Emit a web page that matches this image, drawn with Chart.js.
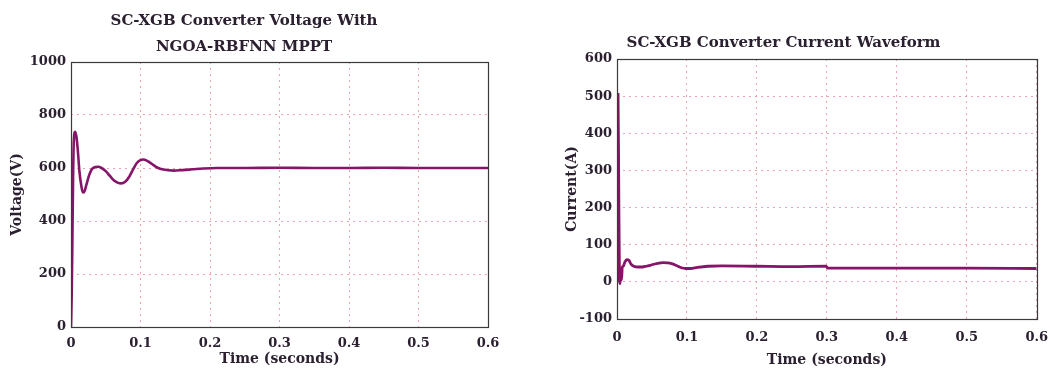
<!DOCTYPE html>
<html>
<head>
<meta charset="utf-8">
<script src="https://cdn.jsdelivr.net/npm/chart.js@4/dist/chart.umd.min.js"></script>
<style>
html,body{margin:0;padding:0;background:#fff;}
#wrap{position:relative;width:1059px;height:377px;overflow:hidden;}
#c1{position:absolute;left:0;top:0;}
#c2{position:absolute;left:530px;top:0;}
</style>
</head>
<body>
<div id="wrap">
<canvas id="c1" width="530" height="377"></canvas>
<canvas id="c2" width="529" height="377"></canvas>
</div>
<script>
// ---------- data ----------
const voltageTitle = ['SC-XGB Converter Voltage With', 'NGOA-RBFNN MPPT'];
const currentTitle = 'SC-XGB Converter Current Waveform';
const xAxisTitle = 'Time (seconds)';
const voltageAxisTitle = 'Voltage(V)';
const currentAxisTitle = 'Current(A)';

const xTicks = [0, 0.1, 0.2, 0.3, 0.4, 0.5, 0.6];
const xTickLabels = ['0', '0.1', '0.2', '0.3', '0.4', '0.5', '0.6'];
const voltageTicks = [0, 200, 400, 600, 800, 1000];
const currentTicks = [-100, 0, 100, 200, 300, 400, 500, 600];

const voltageTime = [0, 0.001, 0.002, 0.003, 0.004, 0.006, 0.008, 0.010, 0.012, 0.015, 0.017, 0.019, 0.022, 0.026, 0.030, 0.035, 0.039, 0.044, 0.050, 0.056, 0.062, 0.067, 0.072, 0.078, 0.084, 0.090, 0.095, 0.100, 0.104, 0.109, 0.116, 0.124, 0.133, 0.148, 0.160, 0.175, 0.190, 0.210, 0.250, 0.300, 0.350, 0.400, 0.450, 0.500, 0.550, 0.600];
const voltageValues = [0, 120, 330, 560, 700, 737, 715, 660, 590, 530, 508, 510, 535, 572, 595, 604, 605, 600, 588, 570, 553, 545, 542, 548, 568, 598, 620, 630, 632, 628, 616, 602, 594, 590, 592, 595, 598, 600, 600, 601, 600, 600, 601, 600, 600, 600];

const currentTime = [0, 0.0008, 0.0015, 0.0025, 0.0035, 0.0045, 0.0055, 0.0065, 0.0075, 0.009, 0.011, 0.014, 0.017, 0.020, 0.024, 0.030, 0.036, 0.042, 0.050, 0.058, 0.066, 0.072, 0.078, 0.085, 0.092, 0.098, 0.105, 0.115, 0.130, 0.150, 0.200, 0.250, 0.299, 0.301, 0.350, 0.400, 0.500, 0.600];
const currentValues = [0, 500, 505, 260, 20, -5, 35, 5, 40, 42, 52, 60, 58, 48, 42, 40, 40, 42, 46, 50, 52, 51, 49, 44, 38, 36, 36, 39, 42, 43, 42, 41, 42, 37, 37, 37, 37, 36];

// ---------- styling ----------
const FONT = "'DejaVu Serif', serif";
const TEXT = '#2b2030';
const LINE = '#861569';
const GRID = 'rgba(228,130,140,0.7)';

const framePlugin = {
  id: 'frame',
  afterDatasetsDraw(chart) {
    const a = chart.chartArea, ctx = chart.ctx;
    ctx.save();
    ctx.strokeStyle = '#3a3a3a';
    ctx.lineWidth = 1.2;
    ctx.strokeRect(Math.round(a.left) + 0.5, Math.round(a.top) + 0.5, Math.round(a.right - a.left), Math.round(a.bottom - a.top));
    ctx.restore();
  }
};

function toPoints(xs, ys) { return xs.map((x, i) => ({ x: x, y: ys[i] })); }

function makeChart(el, cfg) {
  return new Chart(el, {
    type: 'line',
    data: {
      datasets: [{
        data: toPoints(cfg.xs, cfg.ys),
        borderColor: LINE,
        borderWidth: cfg.lw,
        pointRadius: 0,
        cubicInterpolationMode: 'monotone',
        fill: false
      }]
    },
    options: {
      responsive: false,
      animation: false,
      events: [],
      layout: { padding: cfg.layout },
      plugins: {
        legend: { display: false },
        tooltip: { enabled: false },
        title: {
          display: true,
          text: cfg.title,
          color: TEXT,
          font: { family: FONT, size: 15, weight: 'bold', lineHeight: 26 / 15 },
          padding: cfg.titlePad
        }
      },
      scales: {
        x: {
          type: 'linear',
          min: 0, max: 0.6,
          afterBuildTicks: s => { s.ticks = xTicks.map(v => ({ value: v })); },
          afterFit: s => { s.height = cfg.xH; },
          ticks: {
            color: TEXT,
            font: { family: FONT, size: 13, weight: 'bold' },
            padding: cfg.xTickPad,
            maxRotation: 0,
            autoSkip: false,
            callback: (v, i) => xTickLabels[i]
          },
          grid: { color: GRID, lineWidth: 1, drawTicks: false },
          border: { display: false, dash: [2, 4] },
          title: {
            display: true, text: xAxisTitle, color: TEXT,
            font: { family: FONT, size: 14, weight: 'bold' },
            padding: { top: 0, bottom: cfg.xTitlePad }
          }
        },
        y: {
          type: 'linear',
          min: cfg.yMin, max: cfg.yMax,
          afterBuildTicks: s => { s.ticks = cfg.yTicks.map(v => ({ value: v })); },
          afterFit: s => { s.width = cfg.yW; },
          ticks: {
            color: TEXT,
            font: { family: FONT, size: 13, weight: 'bold' },
            padding: 5,
            autoSkip: false,
            callback: v => String(v)
          },
          grid: { color: GRID, lineWidth: 1, drawTicks: false },
          border: { display: false, dash: [2, 4] },
          title: {
            display: true, text: cfg.yTitle, color: TEXT,
            font: { family: FONT, size: 14, weight: 'bold' },
            padding: { top: cfg.yTitlePad, bottom: 0 }
          }
        }
      }
    },
    plugins: [framePlugin]
  });
}

makeChart(document.getElementById('c1'), {
  xs: voltageTime, ys: voltageValues, lw: 2.6,
  title: voltageTitle,
  titlePad: { top: 8, bottom: 2 },
  layout: { top: 0, left: 0, right: 42, bottom: 0 },
  xH: 50, xTickPad: 9, xTitlePad: 9,
  yW: 71, yTitlePad: 9,
  yMin: 0, yMax: 1000, yTicks: voltageTicks, yTitle: voltageAxisTitle
});

makeChart(document.getElementById('c2'), {
  xs: currentTime, ys: currentValues, lw: 2.8,
  title: currentTitle,
  titlePad: { top: 30, bottom: 3 },
  layout: { top: 0, left: 0, right: 22, bottom: 0 },
  xH: 58, xTickPad: 11, xTitlePad: 8,
  yW: 87, yTitlePad: 34,
  yMin: -100, yMax: 600, yTicks: currentTicks, yTitle: currentAxisTitle
});
</script>
</body>
</html>
